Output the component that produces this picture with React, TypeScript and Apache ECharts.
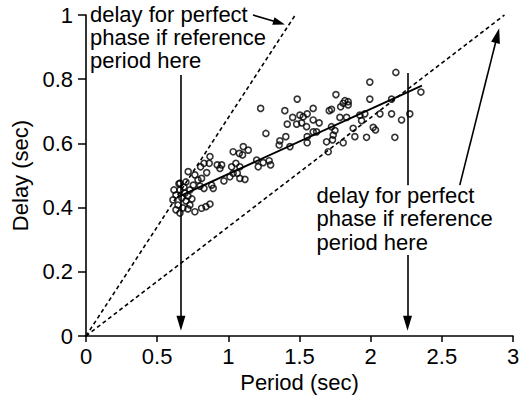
import React, { useEffect, useRef } from 'react';
import * as echarts from 'echarts';

// Scatter observations: period (sec) and delay (sec)
const periods = [
  0.611, 0.632, 0.646, 0.660, 0.674, 0.681, 0.695, 0.702, 0.716, 0.730,
  0.632, 0.660, 0.688, 0.730, 0.744, 0.716, 0.653, 0.618,
  0.765, 0.812, 0.843, 0.871,
  0.718, 0.660, 0.702, 0.754, 0.801, 0.829, 0.883, 0.894, 0.765, 0.812,
  0.787, 0.805, 0.848, 0.829, 0.866, 0.871, 0.922, 0.953, 0.941, 0.969,
  1.011, 1.034, 1.063, 1.081, 1.117, 1.023, 1.053, 1.081,
  1.105, 1.140, 1.077, 1.034, 1.100, 1.199, 1.210, 1.245, 1.287, 1.297, 1.227,
  1.264, 1.397, 1.414, 1.362, 1.357, 1.404, 1.433,
  1.484, 1.452, 1.503, 1.526, 1.554, 1.480, 1.515, 1.550, 1.554, 1.554,
  1.596, 1.596, 1.638, 1.596, 1.620, 1.690, 1.732, 1.702,
  1.709, 1.725, 1.756, 1.789, 1.807, 1.819, 1.842, 1.842, 1.784, 1.831,
  1.725, 1.749, 1.737, 1.807, 1.877, 1.889,
  1.924, 1.959, 1.936, 1.971,
  1.994, 1.994, 2.018, 2.034, 2.065, 2.147, 2.147, 2.177, 2.217, 2.275, 2.170, 2.353,
];
const delays = [
  0.424, 0.439, 0.408, 0.455, 0.430, 0.399, 0.445, 0.421, 0.436, 0.408,
  0.393, 0.383, 0.464, 0.455, 0.427, 0.396, 0.474, 0.455,
  0.387, 0.398, 0.403, 0.411,
  0.512, 0.476, 0.480, 0.470, 0.467, 0.460, 0.470, 0.460, 0.502, 0.491,
  0.486, 0.527, 0.509, 0.538, 0.538, 0.559, 0.533, 0.533, 0.522, 0.483,
  0.496, 0.507, 0.507, 0.491, 0.488, 0.527, 0.538, 0.527,
  0.590, 0.579, 0.569, 0.574, 0.564, 0.548, 0.527, 0.540, 0.546, 0.533, 0.709,
  0.631, 0.702, 0.660, 0.608, 0.595, 0.621, 0.590,
  0.738, 0.681, 0.688, 0.683, 0.692, 0.660, 0.664, 0.652, 0.621, 0.602,
  0.709, 0.673, 0.664, 0.636, 0.636, 0.605, 0.611, 0.574,
  0.702, 0.706, 0.752, 0.714, 0.725, 0.733, 0.730, 0.720, 0.681, 0.681,
  0.652, 0.640, 0.626, 0.602, 0.647, 0.621,
  0.688, 0.692, 0.671, 0.619,
  0.791, 0.738, 0.650, 0.642, 0.692, 0.738, 0.692, 0.821, 0.673, 0.692, 0.619, 0.760,
];

// Reference lines (period, delay)
const steepDashed = [[0, 0], [1.47, 1]];
const shallowDashed = [[0, 0], [2.94, 1]];
const regression = [[0.64, 0.432], [2.36, 0.78]];

// Annotation arrows: [from, to]
const leftArrow = [[0.667, 0.813], [0.667, 0.04]];
const rightUpperLine = [[2.259, 0.819], [2.259, 0.47]];
const rightArrow = [[2.259, 0.252], [2.259, 0.04]];
const topArrow = [[1.173, 1.0], [1.357, 0.976]];
const diagArrow = [[2.626, 0.47], [2.89, 0.936]];

const annotationText = 'delay for perfect\nphase if reference\nperiod here';
const annotation1Pos = [0.028, 1.037];
const annotation2Pos = [1.62, 0.474];

const FONT = '"Liberation Sans", Arial, Helvetica, sans-serif';

export default function App() {
  const ref = useRef<HTMLDivElement>(null);
  useEffect(() => {
    if (!ref.current) return;
    const chart = echarts.init(ref.current, null, { renderer: 'svg' });
    const scatterData = periods.map((p, i) => [p, delays[i]]);
    const arrowItem = (seg: number[][], head: boolean, size: number[] = [9, 15]) => [
      { coord: seg[0], symbol: 'none' },
      head
        ? { coord: seg[1], symbol: 'triangle', symbolSize: size }
        : { coord: seg[1], symbol: 'none' },
    ];
    chart.setOption({
      animation: false,
      grid: { left: 86, right: 16, top: 15, bottom: 69, containLabel: false },
      xAxis: {
        type: 'value',
        min: 0,
        max: 3,
        interval: 0.5,
        name: 'Period (sec)',
        nameLocation: 'middle',
        nameGap: 35,
        nameTextStyle: { fontSize: 22, color: '#000', fontFamily: FONT },
        axisLine: { lineStyle: { color: '#000', width: 1.6 } },
        axisTick: { length: 6, lineStyle: { color: '#000', width: 1.5 } },
        axisLabel: { fontSize: 22, color: '#000', fontFamily: FONT, margin: 9 },
        splitLine: { show: false },
      },
      yAxis: {
        type: 'value',
        min: 0,
        max: 1,
        interval: 0.2,
        name: 'Delay (sec)',
        nameLocation: 'middle',
        nameRotate: 90,
        nameGap: 48,
        nameTextStyle: { fontSize: 22, color: '#000', fontFamily: FONT },
        axisLine: { lineStyle: { color: '#000', width: 1.6 } },
        axisTick: { length: 8, lineStyle: { color: '#000', width: 1.5 } },
        axisLabel: { fontSize: 22, color: '#000', fontFamily: FONT, margin: 13 },
        splitLine: { show: false },
      },
      series: [
        {
          type: 'scatter',
          data: scatterData,
          symbol: 'circle',
          symbolSize: 6,
          itemStyle: { color: 'rgba(255,255,255,0)', borderColor: '#000', borderWidth: 1.6 },
          silent: true,
          z: 2,
        },
        {
          type: 'line',
          data: steepDashed,
          symbol: 'none',
          lineStyle: { color: '#000', width: 1.6, type: [4, 3] },
          silent: true,
          z: 3,
        },
        {
          type: 'line',
          data: shallowDashed,
          symbol: 'none',
          lineStyle: { color: '#000', width: 1.6, type: [4, 3] },
          silent: true,
          z: 3,
        },
        {
          type: 'line',
          data: regression,
          symbol: 'none',
          lineStyle: { color: '#000', width: 2 },
          silent: true,
          z: 4,
        },
        {
          type: 'line',
          data: [],
          silent: true,
          z: 5,
          markLine: {
            silent: true,
            animation: false,
            label: { show: false },
            lineStyle: { color: '#000', width: 1.6, type: 'solid' },
            emphasis: { disabled: true },
            data: [
              arrowItem(leftArrow, true),
              arrowItem(rightUpperLine, false),
              arrowItem(rightArrow, true),
              arrowItem(topArrow, true, [8, 12]),
              arrowItem(diagArrow, true),
            ],
          },
        },
      ],
    });
    const p1 = chart.convertToPixel({ gridIndex: 0 }, annotation1Pos) as number[];
    const p2 = chart.convertToPixel({ gridIndex: 0 }, annotation2Pos) as number[];
    chart.setOption({
      graphic: [
        {
          type: 'text',
          x: p1[0],
          y: p1[1],
          silent: true,
          style: {
            text: annotationText,
            fontSize: 22,
            fontFamily: FONT,
            lineHeight: 23,
            fill: '#000',
            align: 'left',
            verticalAlign: 'top',
          },
        },
        {
          type: 'text',
          x: p2[0],
          y: p2[1],
          silent: true,
          style: {
            text: annotationText,
            fontSize: 22,
            fontFamily: FONT,
            lineHeight: 23.3,
            fill: '#000',
            align: 'left',
            verticalAlign: 'top',
          },
        },
      ],
    });
    return () => chart.dispose();
  }, []);
  return (
    <div
      ref={ref}
      style={{ position: 'fixed', left: 0, top: 0, width: 529, height: 405, background: '#fff' }}
    />
  );
}
